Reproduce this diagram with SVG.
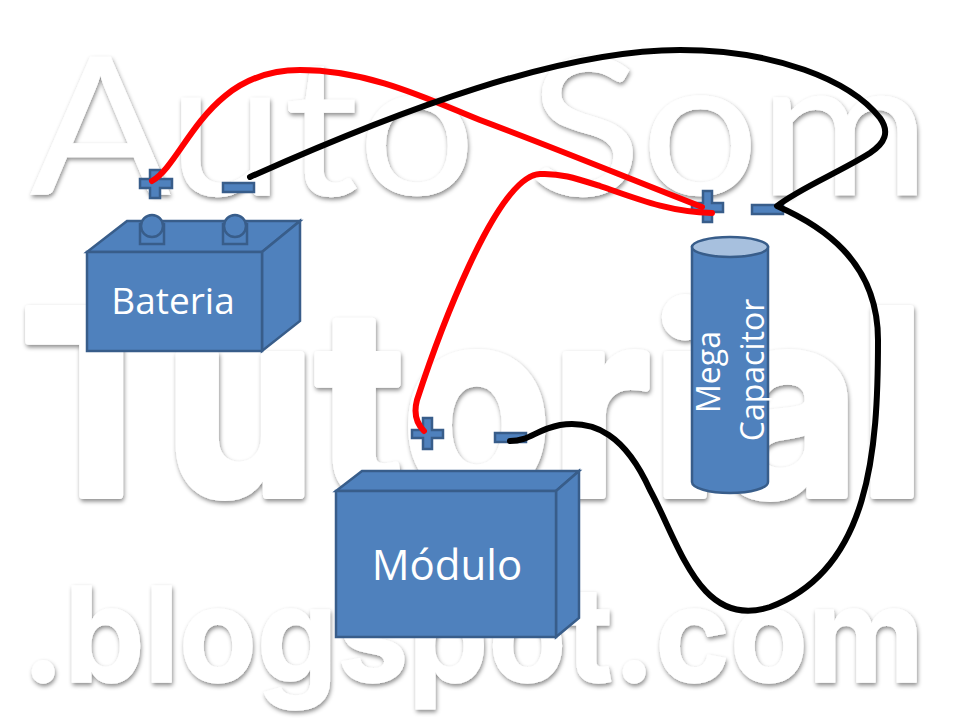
<svg xmlns="http://www.w3.org/2000/svg" width="960" height="720" viewBox="0 0 960 720">
<defs>
<filter id="sh" x="-5%" y="-5%" width="110%" height="115%"><feDropShadow dx="1" dy="2.5" stdDeviation="2.2" flood-color="#000" flood-opacity="0.45"/></filter>
</defs>
<style>
.wm{fill:#fff;stroke:#fff;stroke-linejoin:round}
.a{font-family:"Lato","Liberation Sans",sans-serif;font-weight:400;stroke-width:0.5}
.t{font-family:"Inter","Liberation Sans",sans-serif;font-weight:700;stroke-width:8}
.b{font-family:"Inter","Liberation Sans",sans-serif;font-weight:700;stroke-width:1.5}
.s{fill:#4f81bd;stroke:#385d8a;stroke-width:2.5;stroke-linejoin:miter}
.d{fill:#4f81bd;stroke:#385d8a;stroke-width:2.5}
.l{font-family:"Open Sans","Noto Sans","Liberation Sans",sans-serif;fill:#fff;text-anchor:middle}
.w{fill:none;stroke-width:6;stroke-linecap:round;stroke-linejoin:round}
</style>
<rect width="960" height="720" fill="#fff"/>
<g id="watermark" filter="url(#sh)">
<text class="wm a" x="30" y="195" font-size="192" textLength="900" lengthAdjust="spacingAndGlyphs">Auto Som</text>
<text class="wm t" x="20" y="495" font-size="256" textLength="905" lengthAdjust="spacingAndGlyphs">Tutorial</text>
<text class="wm b" x="22" y="682" font-size="132" textLength="902" lengthAdjust="spacingAndGlyphs">.blogspot.com</text>
</g>
<g id="bateria">
<path class="s" d="M87 252L127 221H300L262 252Z"/>
<rect class="s" x="140" y="224" width="24" height="20"/><circle class="s" cx="152" cy="226" r="11"/>
<rect class="s" x="223" y="224" width="24" height="20"/><circle class="s" cx="235" cy="226" r="11"/>
<path class="s" d="M262 252L300 221V321L262 351Z"/>
<rect class="s" x="87" y="252" width="175" height="99"/>
<text class="l" x="173" y="314" font-size="37">Bateria</text>
</g>
<g id="modulo">
<path class="s" d="M336 491L362 471H579L556 491Z"/>
<path class="s" d="M556 491L579 471V618L556 637Z"/>
<rect class="s" x="336" y="491" width="220" height="146"/>
<text class="l" x="447" y="580" font-size="42">Módulo</text>
</g>
<g id="capacitor">
<path class="s" d="M692 247V482A38 11 0 0 0 768 482V247Z"/>
<ellipse cx="730" cy="247" rx="38" ry="10" fill="#a7c0de" stroke="#385d8a" stroke-width="2.5"/>
<text class="l" transform="translate(720 372) rotate(-90)" font-size="32">Mega</text>
<text class="l" transform="translate(764 370) rotate(-90)" font-size="32">Capacitor</text>
</g>
<g id="terminals">
<path class="d" d="M150 170H160V179H172V188H160V198H150V188H140V179H150Z"/>
<rect class="d" x="223" y="183" width="31" height="9"/>
<path class="d" d="M703 191H712V203H723V212H712V222H703V212H692V203H703Z"/>
<rect class="d" x="752" y="205" width="31" height="9"/>
<path class="d" d="M423 418H432V430H443V438H432V449H423V438H412V430H423Z"/>
<rect class="d" x="495" y="433" width="31" height="9"/>
</g>
<g id="connectors">
<path class="w" stroke="#f00" d="M152 181C185 162 205 70 300 70C370 70 430 100 480 120C560 150 620 175 702 207"/>
<path class="w" stroke="#f00" d="M712 213C670 212 640 200 600 186C575 178 560 173 540 174C495 176 435 345 417 400C413 415 418 425 424 431"/>
<path class="w" stroke="#000" d="M250 177C400 110 560 50 680 50C775 50 850 80 880 118C890 132 885 143 870 153C840 172 800 188 777 206C820 225 878 260 878 340C878 450 870 570 770 607C700 630 680 545 650 490C625 435 595 420 560 425C535 430 530 441 510 441"/>
</g>
</svg>
